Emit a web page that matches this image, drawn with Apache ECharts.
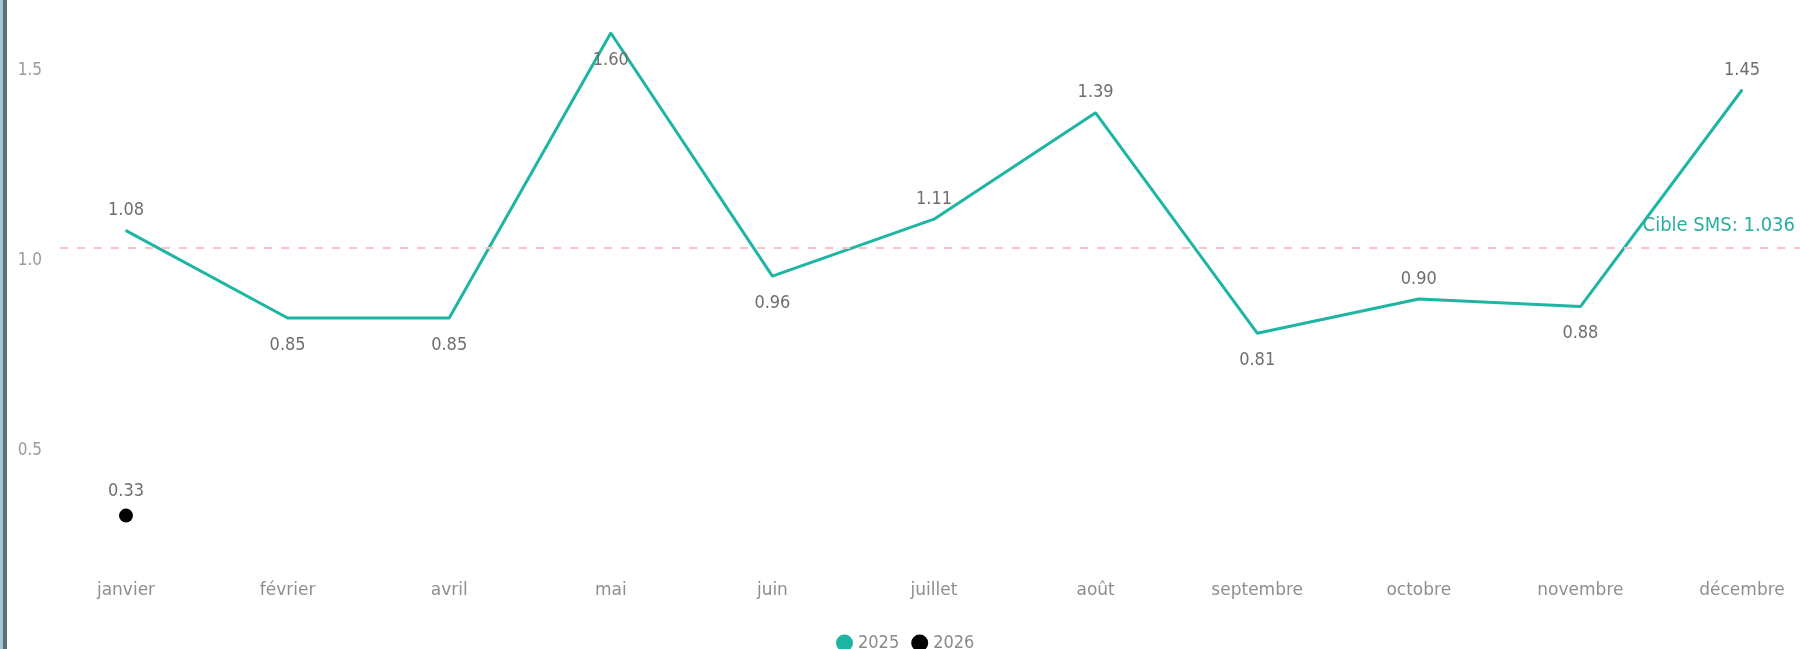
<!DOCTYPE html>
<html>
<head>
<meta charset="utf-8">
<script src="https://cdn.jsdelivr.net/npm/echarts@6/dist/echarts.min.js"></script>
<style>
  html, body { margin: 0; padding: 0; background: #ffffff; }
  #frame { position: absolute; left: 0; top: 0; width: 1800px; height: 649px; }
  #edge { position: absolute; left: 0; top: 0; width: 3px; height: 649px; background: #a8c3d3; border-right: 4px solid #5d6e7b; }
  #chart { position: absolute; left: 0; top: 0; width: 1800px; height: 649px; }
</style>
</head>
<body>
<div id="frame">
  <div id="chart"></div>
  <div id="edge"></div>
</div>
<script>
// Monthly ratio per year, with the SMS target
const months = ['janvier', 'février', 'avril', 'mai', 'juin', 'juillet', 'août', 'septembre', 'octobre', 'novembre', 'décembre'];
const values2025 = [1.08, 0.85, 0.85, 1.60, 0.96, 1.11, 1.39, 0.81, 0.90, 0.88, 1.45];
const values2026 = [0.33, null, null, null, null, null, null, null, null, null, null];
const target = 1.036;
const yTicks = [0.5, 1.0, 1.5];

// where each 2025 value label sits relative to its point
const labelSides2025 = ['top', 'bottom', 'bottom', 'bottom', 'bottom', 'top', 'top', 'bottom', 'top', 'bottom', 'top'];

const teal = '#1fb5a3';
const labelFont = '"DejaVu Sans Condensed", "Liberation Sans Narrow", sans-serif';
const axisFont = '"DejaVu Sans", "Noto Sans", sans-serif';

const chart = echarts.init(document.getElementById('chart'), null, { renderer: 'canvas' });

chart.setOption({
  animation: false,
  backgroundColor: '#ffffff',
  grid: { left: 126, right: 58, top: 14, bottom: 84, containLabel: false },
  legend: {
    data: ['2025', '2026'],
    left: 831,
    top: 629,
    icon: 'circle',
    itemWidth: 17,
    itemHeight: 17,
    itemGap: 12,
    textStyle: { color: '#8a8a8a', fontSize: 18, fontFamily: labelFont }
  },
  xAxis: {
    type: 'category',
    data: months,
    boundaryGap: false,
    axisLine: { show: false },
    axisTick: { show: false },
    splitLine: { show: false },
    axisLabel: { color: '#8e8e8e', fontSize: 17, fontFamily: axisFont, margin: 17 }
  },
  yAxis: {
    type: 'value',
    min: 0.2,
    max: 1.65,
    axisLine: { show: false },
    axisTick: { show: false },
    splitLine: { show: false },
    axisLabel: {
      customValues: yTicks,
      formatter: v => v.toFixed(1),
      color: '#9a9a9a',
      fontSize: 17,
      fontFamily: labelFont,
      margin: 84
    }
  },
  series: [
    {
      name: '2025',
      type: 'line',
      data: values2025.map((v, i) => ({
        value: v,
        label: { position: labelSides2025[i], distance: labelSides2025[i] === 'top' ? 10 : 17 }
      })),
      color: teal,
      clip: false,
      symbol: 'circle',
      symbolSize: 2,
      showSymbol: true,
      itemStyle: { color: teal },
      lineStyle: { color: teal, width: 3 },
      label: {
        show: true,
        formatter: p => p.value.toFixed(2),
        color: '#6e6e6e',
        fontSize: 18,
        fontFamily: labelFont
      },
      emphasis: { disabled: true },
      markLine: {
        silent: true,
        symbol: 'none',
        lineStyle: { color: '#f7c4c6', type: [8, 9], width: 2 },
        label: {
          show: true,
          position: 'insideEndTop',
          formatter: 'Cible SMS: ' + target,
          color: '#2aae9f',
          fontSize: 20,
          fontFamily: labelFont,
          distance: [5, 12]
        },
        data: [[{ x: 60, yAxis: target }, { x: 1800, yAxis: target }]]
      },
      z: 3
    },
    {
      name: '2026',
      type: 'line',
      data: values2026,
      color: '#000000',
      symbol: 'circle',
      symbolSize: 14,
      itemStyle: { color: '#000000' },
      lineStyle: { color: '#000000', width: 3 },
      label: {
        show: true,
        position: 'top',
        distance: 8,
        formatter: p => (p.value == null ? '' : p.value.toFixed(2)),
        color: '#6e6e6e',
        fontSize: 18,
        fontFamily: labelFont
      },
      emphasis: { disabled: true },
      z: 4
    }
  ]
});
</script>
</body>
</html>
